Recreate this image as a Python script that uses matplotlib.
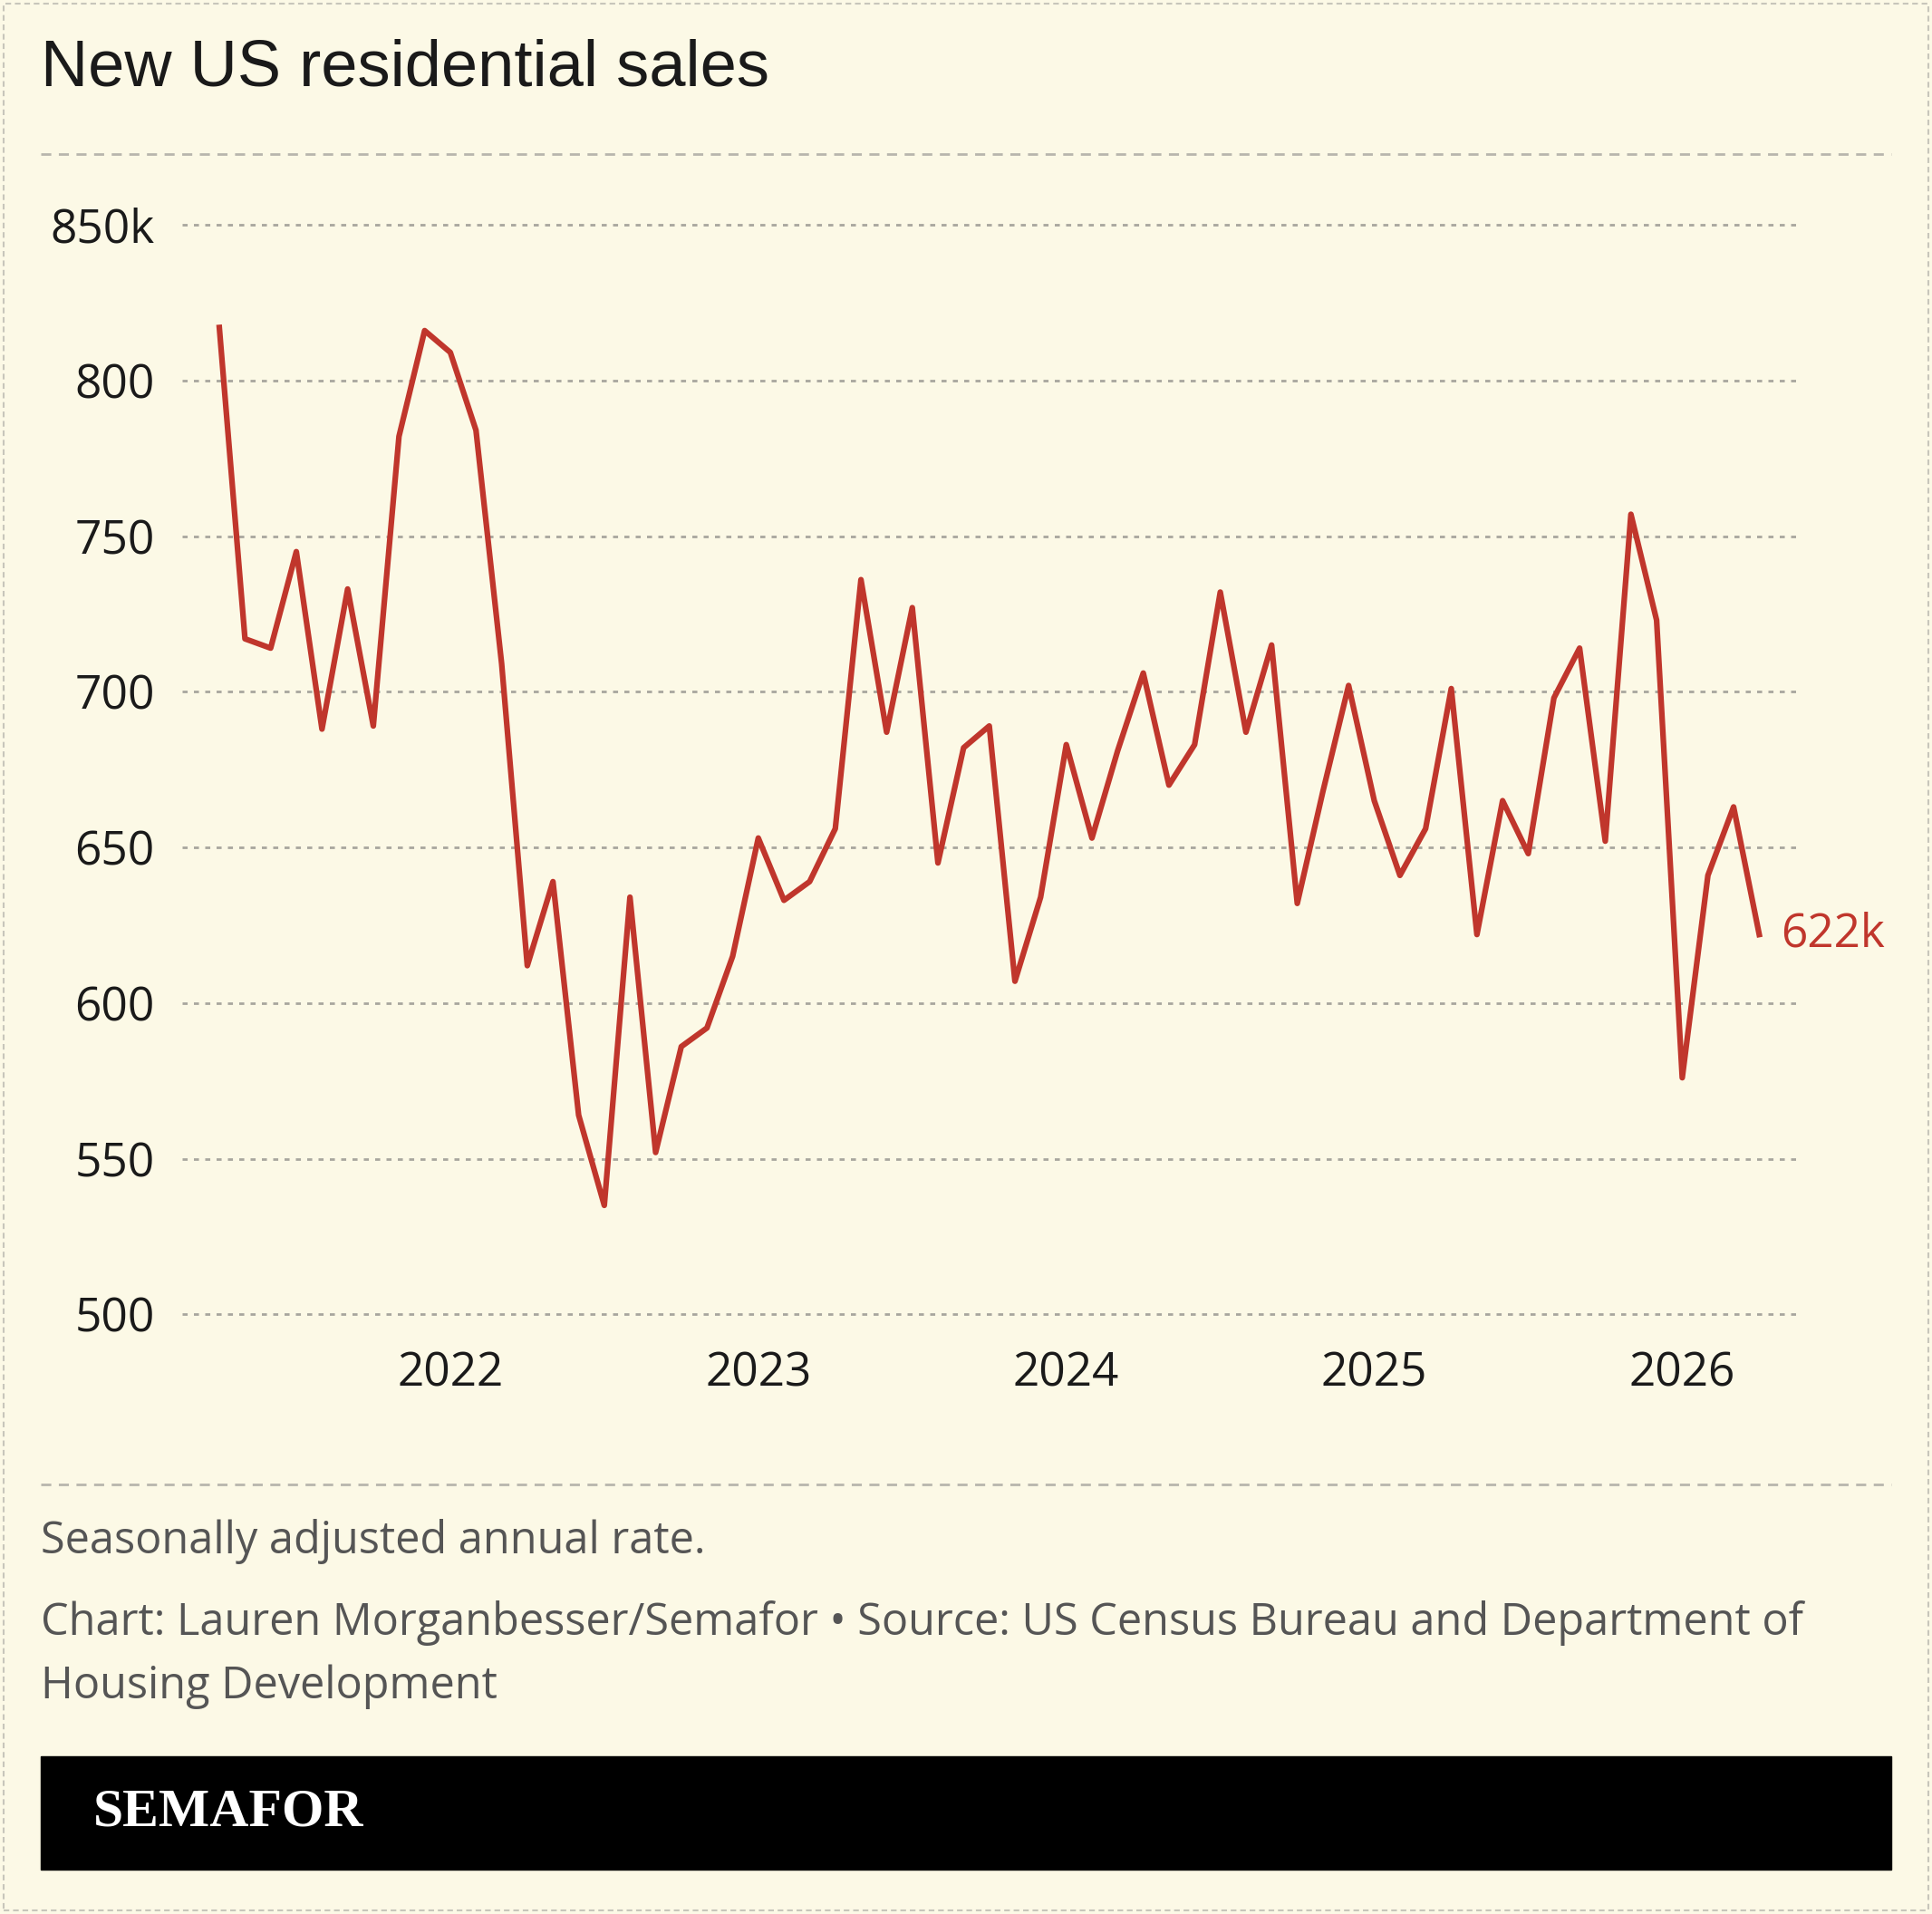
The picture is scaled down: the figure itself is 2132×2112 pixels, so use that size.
import matplotlib
matplotlib.use("Agg")
import matplotlib.pyplot as plt
from matplotlib.patches import Rectangle

# Monthly new home sales, Apr 2021 .. Apr 2026 (thousands, SAAR)
sales = [817, 717, 714, 745, 688, 733, 689, 782, 816,
         809, 784, 709, 612, 639, 564, 535, 634, 552, 586, 592, 615,
         653, 633, 639, 656, 736, 687, 727, 645, 682, 689, 607, 634,
         683, 653, 681, 706, 670, 683, 732, 687, 715, 632, 668, 702,
         665, 641, 656, 701, 622, 665, 648, 698, 714, 652, 757, 723,
         576, 641, 663, 622]
year_ticks = [9, 21, 33, 45, 57]
year_labels = ["2022", "2023", "2024", "2025", "2026"]
y_ticks = [500, 550, 600, 650, 700, 750, 800, 850]
y_labels = ["500", "550", "600", "650", "700", "750", "800", "850k"]

BG = "#fcf9e6"
RED = "#c0362c"
W, H = 1568, 1552  # layout reference grid

fig = plt.figure(figsize=(21.32, 21.12), dpi=100, facecolor=BG)
plt.rcParams["font.family"] = ["Open Sans", "DejaVu Sans"]

def fx(px): return px / W
def fy(py): return 1 - py / H

# border
fig.add_artist(Rectangle((fx(3), fy(1549)), fx(1562), 1 - 6 / H, transform=fig.transFigure,
                         fill=False, ec="#c8c6bb", ls=(0, (3, 2)), lw=1.5))
for yy in (125, 1204):
    fig.add_artist(plt.Line2D([fx(33), fx(1535)], [fy(yy), fy(yy)], color="#b8b6ad",
                              ls=(0, (4, 3)), lw=2))

fig.text(fx(33), fy(56), "New US residential sales", fontsize=52, color="#1a1a1a",
         va="center", family=["Liberation Sans"])

ax = fig.add_axes([fx(148), fy(1091), fx(1458 - 148), (1091 - 157) / H])
ax.set_facecolor(BG)
x = list(range(len(sales)))
ax.plot(x, sales, color=RED, lw=4.5, solid_joinstyle="round")
ax.set_xlim(-1.44, 61.45)
ax.set_ylim(490, 860)
ax.set_yticks(y_ticks)
ax.set_yticklabels(y_labels)
ax.set_xticks(year_ticks)
ax.set_xticklabels(year_labels)
ax.tick_params(length=0, labelsize=37, colors="#1a1a1a")
ax.tick_params(axis="y", pad=22)
ax.tick_params(axis="x", pad=4)
ax.grid(axis="y", color="#a8a69e", ls=(0, (2, 2.5)), lw=2)
for s in ax.spines.values():
    s.set_visible(False)
ax.annotate("622k", (x[-1], sales[-1]), xytext=(17, 0), textcoords="offset points",
            color=RED, fontsize=37, va="center", annotation_clip=False)

fig.text(fx(33), fy(1250), "Seasonally adjusted annual rate.", fontsize=35,
         color="#555", va="center")
fig.text(fx(33), fy(1316), "Chart: Lauren Morganbesser/Semafor \u2022 Source: US Census Bureau and Department of",
         fontsize=35, color="#555", va="center")
fig.text(fx(33), fy(1368), "Housing Development", fontsize=35, color="#555", va="center")

fig.add_artist(Rectangle((fx(33), fy(1516)), fx(1535 - 33), (1516 - 1424) / H,
                         transform=fig.transFigure, color="black"))
fig.text(fx(76), fy(1470), "SEMAFOR", fontsize=43, color="white", weight="bold",
         va="center", family=["Liberation Serif"])

fig.savefig("out.png", facecolor=BG)
